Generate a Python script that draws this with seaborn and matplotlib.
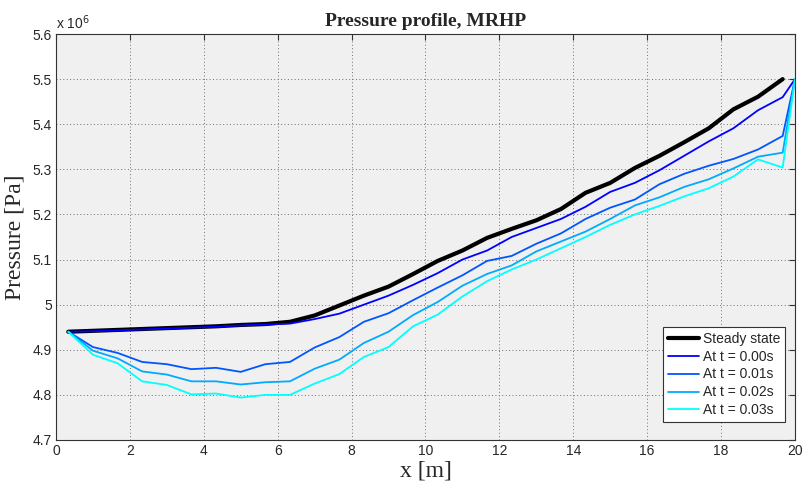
import numpy as np
import pandas as pd
import seaborn as sns
import matplotlib.pyplot as plt
from matplotlib.ticker import FuncFormatter, MultipleLocator

# Сетка (центры ячеек) и граничная точка
x_cells = [0.333, 1.0, 1.667, 2.333, 3.0, 3.667, 4.333, 5.0, 5.667, 6.333,
           7.0, 7.667, 8.333, 9.0, 9.667, 10.333, 11.0, 11.667, 12.333, 13.0,
           13.667, 14.333, 15.0, 15.667, 16.333, 17.0, 17.667, 18.333, 19.0, 19.667]
x_boundary = 20.0
p_boundary = 5.5e6

# Давление, x 10^6 Па
steady = [4.940, 4.942, 4.944, 4.946, 4.948, 4.950, 4.952, 4.955, 4.957, 4.962,
          4.976, 4.998, 5.020, 5.040, 5.068, 5.097, 5.120, 5.148, 5.168, 5.187,
          5.212, 5.248, 5.270, 5.303, 5.330, 5.360, 5.391, 5.433, 5.461, 5.500]
t000 = [4.940, 4.941, 4.943, 4.945, 4.947, 4.949, 4.951, 4.954, 4.956, 4.958,
        4.968, 4.980, 5.000, 5.020, 5.044, 5.070, 5.100, 5.120, 5.150, 5.170,
        5.190, 5.217, 5.250, 5.270, 5.298, 5.330, 5.362, 5.391, 5.431, 5.460]
t001 = [4.940, 4.906, 4.893, 4.873, 4.868, 4.857, 4.860, 4.851, 4.868, 4.873,
        4.905, 4.928, 4.962, 4.981, 5.010, 5.038, 5.065, 5.097, 5.108, 5.135,
        5.158, 5.190, 5.215, 5.233, 5.267, 5.290, 5.308, 5.323, 5.344, 5.374]
t002 = [4.940, 4.898, 4.881, 4.852, 4.845, 4.830, 4.830, 4.823, 4.828, 4.830,
        4.858, 4.878, 4.915, 4.940, 4.977, 5.006, 5.042, 5.068, 5.087, 5.118,
        5.140, 5.162, 5.190, 5.220, 5.238, 5.261, 5.278, 5.302, 5.328, 5.337]
t003 = [4.940, 4.889, 4.870, 4.830, 4.822, 4.801, 4.803, 4.794, 4.800, 4.800,
        4.825, 4.846, 4.884, 4.906, 4.952, 4.978, 5.018, 5.052, 5.078, 5.100,
        5.125, 5.150, 5.177, 5.200, 5.219, 5.240, 5.258, 5.284, 5.322, 5.304]

labels = ["Steady state", "At t = 0.00s", "At t = 0.01s", "At t = 0.02s", "At t = 0.03s"]
colors = ["black", "#0000ff", "#0055ff", "#00aaff", "#00ffff"]
widths = [3.0, 1.3, 1.3, 1.3, 1.3]

# Собираем длинную таблицу
frames = []
frames.append(pd.DataFrame({"x": x_cells, "p": np.array(steady) * 1e6, "series": labels[0]}))
for lab, vals in zip(labels[1:], [t000, t001, t002, t003]):
    frames.append(pd.DataFrame({"x": x_cells + [x_boundary],
                                "p": list(np.array(vals) * 1e6) + [p_boundary],
                                "series": lab}))
df = pd.concat(frames, ignore_index=True)

sns.set_style("whitegrid", {"axes.facecolor": "#f0f0f0", "axes.edgecolor": "#333333"})
plt.rcParams["font.family"] = ["Liberation Sans", "DejaVu Sans"]

fig, ax = plt.subplots(figsize=(8.03, 4.86), dpi=100)
fig.subplots_adjust(left=0.0697, right=0.990, bottom=0.0947, top=0.930)

for lab, col, lw in zip(labels, colors, widths):
    sns.lineplot(data=df[df["series"] == lab], x="x", y="p", color=col, linewidth=lw,
                 label=lab, ax=ax, sort=False)

ax.set_xlim(0, 20)
ax.set_ylim(4.7e6, 5.6e6)
ax.xaxis.set_major_locator(MultipleLocator(2))
ax.yaxis.set_major_locator(MultipleLocator(0.1e6))
ax.yaxis.set_major_formatter(FuncFormatter(lambda v, _: f"{v / 1e6:g}"))
ax.tick_params(direction="in", top=True, right=True, length=4, labelsize=10,
               color="#333333", pad=3)
ax.grid(True, linestyle=(0, (1, 2.5)), color="#707070", linewidth=0.7)
for s in ax.spines.values():
    s.set_linewidth(0.8)

ax.text(0.0, 1.005, r"x 10$^6$", transform=ax.transAxes, fontsize=10,
        ha="left", va="bottom")

ax.set_title("Pressure profile, MRHP", fontsize=14, fontweight="bold",
             family="Liberation Serif", pad=6)
ax.set_xlabel("x [m]", fontsize=17, family="Liberation Serif", labelpad=2)
ax.set_ylabel("Pressure [Pa]", fontsize=17, family="Liberation Serif", labelpad=5)

leg = ax.legend(loc="lower right", bbox_to_anchor=(0.9865, 0.044), borderaxespad=0,
                fontsize=10, frameon=True, fancybox=False, edgecolor="#333333",
                framealpha=1, handlelength=2.2, labelspacing=0.28, borderpad=0.35,
                handletextpad=0.3)
leg.get_frame().set_facecolor("white")
leg.get_frame().set_linewidth(0.8)

plt.savefig("out.png", dpi=100)
